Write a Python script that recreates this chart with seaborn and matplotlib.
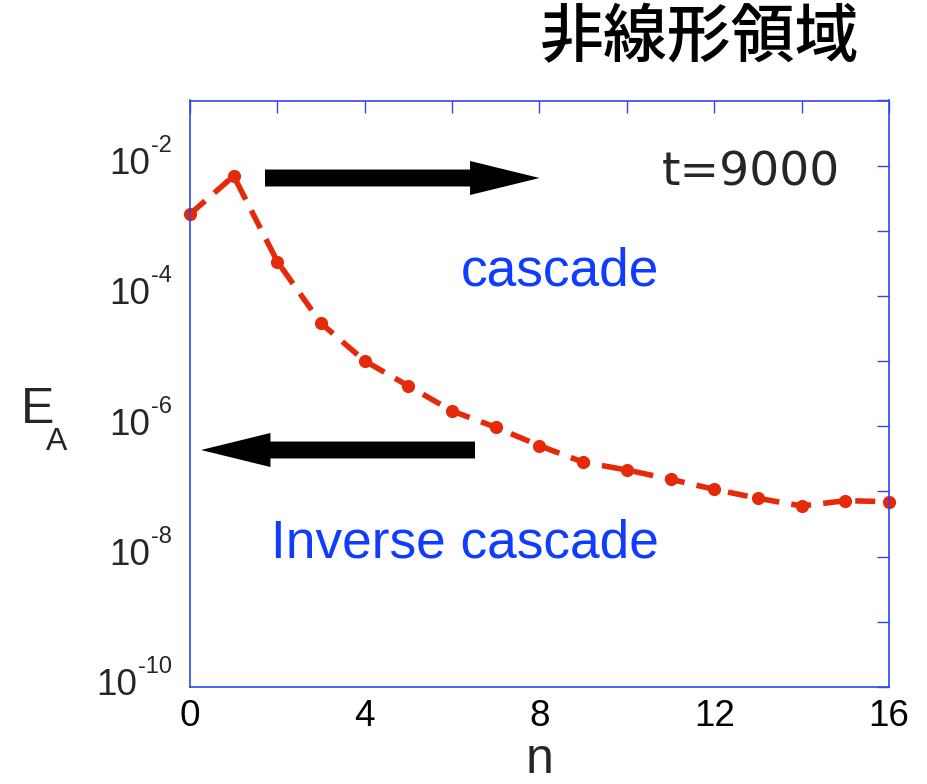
import numpy as np
import pandas as pd
import matplotlib
matplotlib.use("Agg")
import matplotlib.pyplot as plt
from matplotlib.ticker import FixedLocator, NullFormatter
import seaborn as sns

# Energy spectrum E_A over mode number n at t = 9000
n_modes = [0, 1, 2, 3, 4, 5, 6, 7, 8, 9, 10, 11, 12, 13, 14, 15, 16]
energy_a = [1.81e-3, 6.95e-3, 3.37e-4, 3.81e-5, 1.01e-5, 4.16e-6, 1.72e-6,
            9.66e-7, 5.05e-7, 2.81e-7, 2.14e-7, 1.54e-7, 1.08e-7, 7.87e-8,
            6.0e-8, 7.23e-8, 6.98e-8]

x_major = [0, 4, 8, 12, 16]
x_minor = [2, 6, 10, 14]
y_major_exp = [-10, -8, -6, -4, -2]
y_minor_exp = [-9, -7, -5, -3, -1]

title_text = "非線形領域"
time_label = "t=9000"
cascade_label = "cascade"
inverse_label = "Inverse cascade"

sns.set_style("white")
plt.rcParams["font.family"] = ["Liberation Sans", "DejaVu Sans"]

RED = "#e52a0a"
BLUE_TEXT = "#0f3cff"
SPINE = "#2c48ee"

W, H = 928, 784
fig = plt.figure(figsize=(W / 100, H / 100), dpi=100)
ax = fig.add_axes([190 / W, 1 - 687 / H, 699 / W, 586.5 / H])

df = pd.DataFrame({"n": n_modes, "E_A": energy_a})
ax.set_yscale("log")
sns.lineplot(data=df, x="n", y="E_A", ax=ax, color=RED, linewidth=4,
             linestyle=(0, (3.6, 2.2)), marker="o", markersize=9.5,
             markeredgewidth=0, markerfacecolor=RED, clip_on=False)

ax.set_xlim(0, 16)
ax.set_ylim(1e-10, 1e-1)

# Ticks on all four sides, pointing inward
ax.xaxis.set_major_locator(FixedLocator(x_major))
ax.xaxis.set_minor_locator(FixedLocator(x_minor))
ax.yaxis.set_major_locator(FixedLocator([10.0 ** e for e in y_major_exp]))
ax.yaxis.set_minor_locator(FixedLocator([10.0 ** e for e in y_minor_exp]))
ax.yaxis.set_major_formatter(NullFormatter())
ax.yaxis.set_minor_formatter(NullFormatter())
ax.tick_params(which="both", direction="in", top=True, right=True,
               length=8.6, width=1.0, color=SPINE)
ax.tick_params(axis="x", which="major", labelsize=26.6, pad=9.0,
               labelcolor="black")
ax.set_xticklabels([str(v) for v in x_major])
for sp in ax.spines.values():
    sp.set_color(SPINE)
    sp.set_linewidth(1.2)
ax.set_ylabel("")

# Decade labels 10^k with a small raised exponent
pt = 0.72  # points per pixel at 100 dpi
for e in y_major_exp:
    sup = ax.annotate(f"{e}", xy=(0, 10.0 ** e),
                      xycoords=("axes fraction", "data"),
                      xytext=(-18 * pt, 13.5 * pt), textcoords="offset points",
                      ha="right", va="baseline", fontsize=17)
    ax.annotate("10", xy=(0, 10.0 ** e), xycoords=(sup, "data"),
                xytext=(-0.8, -8.5 * pt), textcoords="offset points",
                ha="right", va="baseline", fontsize=26.6)

# Axis labels
ax.set_xlabel("n", fontsize=36, va="baseline")
ax.xaxis.set_label_coords(0.5, (687 - 773) / 586.5)
fig.text(21 / W, 1 - 423 / H, "E", fontsize=36, ha="left", va="baseline")
fig.text(46 / W, 1 - 450 / H, "A", fontsize=23, ha="left", va="baseline")

# Annotations
fig.text(700 / W, 1 - 39 / H, title_text, fontsize=46, ha="center",
         va="center", fontweight="medium", color="black",
         family=["Noto Sans CJK JP", "DejaVu Sans"])
fig.text(662 / W, 1 - 185 / H, time_label, fontsize=34, ha="left",
         va="baseline", family=["DejaVu Sans"])
fig.text(461 / W, 1 - 286 / H, cascade_label, fontsize=38.3, ha="left",
         va="baseline", color=BLUE_TEXT)
fig.text(271 / W, 1 - 558 / H, inverse_label, fontsize=38.3, ha="left",
         va="baseline", color=BLUE_TEXT)

arrow_style = "simple,head_length=50,head_width=24.5,tail_width=12.2"
ax.annotate("", xy=(0.5, (687 - 178) / 586.5), xycoords="axes fraction",
            xytext=((265 - 190) / 699, (687 - 178) / 586.5),
            arrowprops=dict(arrowstyle=arrow_style, color="black",
                            mutation_scale=1, shrinkA=0, shrinkB=0, lw=0))
ax.annotate("", xy=((201 - 190) / 699, (687 - 450) / 586.5),
            xycoords="axes fraction",
            xytext=((475 - 190) / 699, (687 - 450) / 586.5),
            arrowprops=dict(arrowstyle=arrow_style, color="black",
                            mutation_scale=1, shrinkA=0, shrinkB=0, lw=0))

fig.savefig("out.png", dpi=100)
